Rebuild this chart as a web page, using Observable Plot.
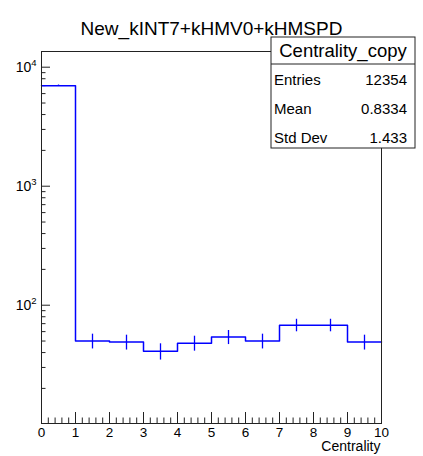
<!DOCTYPE html>
<html><head><meta charset="utf-8">
<script src="https://cdn.jsdelivr.net/npm/d3@7"></script>
<script src="https://cdn.jsdelivr.net/npm/@observablehq/plot@0.6"></script>
<style>body{margin:0;background:#fff}</style>
</head><body><div id="chart"></div>
<script>
const title = "New_kINT7+kHMV0+kHMSPD";
const xLabel = "Centrality";
const binLow  = [0, 1, 2, 3, 4, 5, 6, 7, 8, 9];
const binHigh = [1, 2, 3, 4, 5, 6, 7, 8, 9, 10];
const counts  = [7000, 50, 49, 41, 48, 54, 50, 68, 68, 49];
const errors  = [84, 7.1, 7.0, 6.4, 6.9, 7.3, 7.1, 8.2, 8.2, 7.0];
const xTicks = [0, 1, 2, 3, 4, 5, 6, 7, 8, 9, 10];
const xMinorTicks = d3.range(0, 50).map(i => i * 0.2).filter(v => Math.abs(v - Math.round(v)) > 1e-6);
const yTicks = [100, 1000, 10000];
const yMinorTicks = [20, 30, 40, 50, 60, 70, 80, 90, 200, 300, 400, 500, 600, 700, 800, 900, 2000, 3000, 4000, 5000, 6000, 7000, 8000, 9000];
const yDomain = [10.14, 13550];
const xDomain = [0, 10];
const statsTitle = "Centrality_copy";
const statsLabels = ["Entries", "Mean", "Std Dev"];
const statsValues = ["12354", "0.8334", "1.433"];

const bins = binLow.map((x1, i) => ({x1, x2: binHigh[i], c: counts[i], e: errors[i]}));
const steps = bins.map(b => ({x: b.x1, y: b.c})).concat([{x: bins[bins.length-1].x2, y: bins[bins.length-1].c}]);

const W = 423, H = 456, mL = 41, mR = 42, mT = 51, mB = 33;
const fh = H - mT - mB, fw = W - mL - mR;
const font = "'Liberation Sans', Arial, Helvetica, sans-serif";

const chart = Plot.plot({
  width: W, height: H,
  marginLeft: mL, marginRight: mR, marginTop: mT, marginBottom: mB,
  style: {fontFamily: font, fontSize: "13px", background: "white", color: "black"},
  x: {domain: xDomain},
  y: {type: "log", domain: yDomain},
  marks: [
    Plot.tickX(xMinorTicks, {x: d => d, insetTop: fh - 5.5, stroke: "#222"}),
    Plot.tickX(xTicks, {x: d => d, insetTop: fh - 11, stroke: "#222"}),
    Plot.tickY(yMinorTicks, {y: d => d, insetRight: fw - 4.5, stroke: "#222"}),
    Plot.tickY(yTicks, {y: d => d, insetRight: fw - 9, stroke: "#222"}),
    Plot.axisX(xTicks, {tickSize: 0, tickPadding: 4, fontSize: 13.5, label: null, tickFormat: d => String(d)}),
    Plot.axisY(yTicks, {tickSize: 0, tickPadding: 5, fontSize: 14, label: null, tickFormat: d => "10^" + Math.round(Math.log10(d))}),
    Plot.line(steps, {x: "x", y: "y", curve: "step-after", stroke: "#0000ff", strokeWidth: 1.5}),
    Plot.ruleX(bins, {x: d => (d.x1 + d.x2) / 2, y1: d => d.c - d.e, y2: d => d.c + d.e, stroke: "#0000ff", strokeWidth: 1.3}),
    Plot.frame({stroke: "#222", strokeWidth: 1}),
    Plot.text([xLabel], {frameAnchor: "bottom-right", dy: 27, dx: -1, textAnchor: "end", fontSize: 14}),
    Plot.text([title], {frameAnchor: "top", dy: -30, fontSize: 19})
  ]
});

// superscript exponents on y tick labels
d3.select(chart).selectAll('g[aria-label="y-axis tick label"] text').each(function() {
  const t = this.textContent;
  if (t.includes("^")) {
    const [base, exp] = t.split("^");
    const sel = d3.select(this);
    sel.text(base);
    sel.append("tspan").attr("dy", "-0.55em").attr("font-size", "0.68em").text(exp);
  }
});

// statistics box
const svg = d3.select(chart);
const g = svg.append("g").attr("font-family", font);
const bx = 271, by = 37, bw = 144, bh = 111, divY = 64;
g.append("rect").attr("x", bx).attr("y", by).attr("width", bw).attr("height", bh)
  .attr("fill", "white").attr("stroke", "#222").attr("stroke-width", 1);
g.append("line").attr("x1", bx).attr("x2", bx + bw).attr("y1", divY).attr("y2", divY).attr("stroke", "#222");
g.append("text").attr("x", bx + bw / 2).attr("y", 57).attr("text-anchor", "middle").attr("font-size", 18.5).text(statsTitle);
const rowBase = [85, 114, 143];
statsLabels.forEach((l, i) => {
  g.append("text").attr("x", 274).attr("y", rowBase[i]).attr("text-anchor", "start").attr("font-size", 15).text(l);
  g.append("text").attr("x", 407).attr("y", rowBase[i]).attr("text-anchor", "end").attr("font-size", 15).text(statsValues[i]);
});

document.getElementById("chart").appendChild(chart);
</script>
</body></html>
